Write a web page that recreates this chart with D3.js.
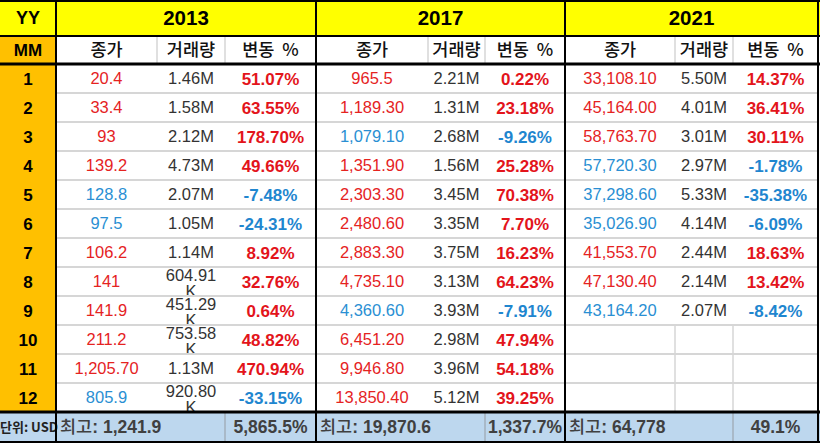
<!DOCTYPE html>
<html><head><meta charset="utf-8">
<script src="https://cdn.jsdelivr.net/npm/d3@7"></script>
<style>
html,body{margin:0;padding:0;background:#fff;}
svg{display:block;}
</style></head>
<body><svg id="chart" width="820" height="444"></svg>
<script>
// ---------- data ----------
const years = ["2013", "2017", "2021"];
const months = [1, 2, 3, 4, 5, 6, 7, 8, 9, 10, 11, 12];
const subHeaders = ["종가", "거래량", "변동 %"];

const close2013 = [20.4, 33.4, 93, 139.2, 128.8, 97.5, 106.2, 141, 141.9, 211.2, 1205.7, 805.9];
const volume2013 = [1460000, 1580000, 2120000, 4730000, 2070000, 1050000, 1140000, 604910, 451290, 753580, 1130000, 920800];
const change2013 = [51.07, 63.55, 178.70, 49.66, -7.48, -24.31, 8.92, 32.76, 0.64, 48.82, 470.94, -33.15];

const close2017 = [965.5, 1189.3, 1079.1, 1351.9, 2303.3, 2480.6, 2883.3, 4735.1, 4360.6, 6451.2, 9946.8, 13850.4];
const volume2017 = [2210000, 1310000, 2680000, 1560000, 3450000, 3350000, 3750000, 3130000, 3930000, 2980000, 3960000, 5120000];
const change2017 = [0.22, 23.18, -9.26, 25.28, 70.38, 7.70, 16.23, 64.23, -7.91, 47.94, 54.18, 39.25];

const close2021 = [33108.1, 45164.0, 58763.7, 57720.3, 37298.6, 35026.9, 41553.7, 47130.4, 43164.2];
const volume2021 = [5500000, 4010000, 3010000, 2970000, 5330000, 4140000, 2440000, 2140000, 2070000];
const change2021 = [14.37, 36.41, 30.11, -1.78, -35.38, -6.09, 18.63, 13.42, -8.42];

const footerMax = [1241.9, 19870.6, 64778];
const footerChange = ["5,865.5%", "1,337.7%", "49.1%"];
const unitLabel = "단위: USD";
const maxLabel = "최고";

// ---------- layout ----------
const W = 820, H = 444;
const groupEdges = [[56, 157, 225, 316], [316, 428, 485, 565], [565, 675, 733, 818]];
const closes = [close2013, close2017, close2021];
const volumes = [volume2013, volume2017, volume2021];
const changes = [change2013, change2017, change2021];

const y = d3.scaleBand().domain(months).range([64, 412]).paddingInner(0).paddingOuter(0);
const xYear = d3.scaleOrdinal().domain(years).range(groupEdges);

const RED = "#E5231F", BLUE = "#2A8FD3", PRED = "#E3141B", PBLUE = "#1F86CF";
const KFONT = "'Noto Sans CJK KR', 'Noto Sans', sans-serif";
const NFONT = "'Liberation Sans', Arial, sans-serif";
const NUM_SIZE = 16.5, PCT_SIZE = 17;

const svg = d3.select("#chart");
svg.append("rect").attr("width", W).attr("height", H).attr("fill", "#fff");

const fmtClose = v => v >= 1000 ? d3.format(",.2f")(v) : String(v);
const fmtVol = v => v >= 1e6 ? (v / 1e6).toFixed(2) + "M" : (v / 1e3).toFixed(2) + " K";
const fmtChg = v => v.toFixed(2) + "%";

// backgrounds
svg.append("rect").attr("x", 0).attr("y", 0).attr("width", W).attr("height", 36).attr("fill", "#FFFF00");
svg.append("rect").attr("x", 0).attr("y", 36).attr("width", 56).attr("height", 376).attr("fill", "#FFC000");
svg.append("rect").attr("x", 0).attr("y", 412).attr("width", W).attr("height", 30).attr("fill", "#BDD7EE");

const defs = svg.append("defs");

// gray grid
const grid = svg.append("g").attr("stroke", "#D6D6D6").attr("stroke-width", 2);
months.forEach((m, i) => {
  if (i > 0) grid.append("line").attr("x1", 57).attr("x2", 818).attr("y1", y(m)).attr("y2", y(m));
});
groupEdges.forEach((ge, gi) => {
  [ge[1], ge[2]].forEach(x => grid.append("line").attr("x1", x).attr("x2", x).attr("y1", 37).attr("y2", 63).attr("stroke-width", 1.5));
  grid.append("line").attr("x1", ge[2]).attr("x2", ge[2]).attr("y1", 413).attr("y2", 442).attr("stroke-width", 2).attr("stroke", "#A9B9C8");
  const n = closes[gi].length;
  months.forEach((m, i) => {
    if (i >= n) {
      [ge[1], ge[2]].forEach(x => grid.append("line").attr("x1", x).attr("x2", x).attr("y1", y(m)).attr("y2", y(m) + y.bandwidth()).attr("stroke-width", 1.5));
    }
  });
});

// header row 1
svg.append("text").attr("x", 28).attr("y", 18).attr("dy", "0.36em").attr("text-anchor", "middle")
  .attr("font-family", NFONT).attr("font-weight", "bold").attr("font-size", 18).text("YY");
years.forEach(yr => {
  const ge = xYear(yr);
  svg.append("text").attr("x", (ge[0] + ge[3]) / 2).attr("y", 18).attr("dy", "0.36em").attr("text-anchor", "middle")
    .attr("font-family", NFONT).attr("font-weight", "bold").attr("font-size", 20.5).text(yr);
});

// header row 2
svg.append("text").attr("x", 28).attr("y", 50).attr("dy", "0.36em").attr("text-anchor", "middle")
  .attr("font-family", NFONT).attr("font-weight", "bold").attr("font-size", 17).text("MM");
years.forEach(yr => {
  const ge = xYear(yr);
  subHeaders.forEach((h, j) => {
    svg.append("text").attr("x", (ge[j] + ge[j + 1]) / 2).attr("y", 50).attr("dy", "0.36em").attr("text-anchor", "middle")
      .attr("font-family", KFONT).attr("font-weight", 500).attr("font-size", 17.5).attr("fill", "#111")
      .attr("word-spacing", 4).text(h);
  });
});

// month labels
svg.append("g").selectAll("text").data(months).join("text")
  .attr("x", 28).attr("y", d => y(d) + y.bandwidth() / 2).attr("dy", "0.36em").attr("text-anchor", "middle")
  .attr("font-family", NFONT).attr("font-weight", "bold").attr("font-size", 17).text(d => d);

// data cells
years.forEach((yr, gi) => {
  const ge = xYear(yr);
  const g = svg.append("g");
  closes[gi].forEach((c, i) => {
    const m = months[i];
    const cy = y(m) + y.bandwidth() / 2;
    const pos = changes[gi][i] >= 0;
    g.append("text").attr("x", (ge[0] + ge[1]) / 2).attr("y", cy).attr("dy", "0.36em").attr("text-anchor", "middle")
      .attr("font-family", NFONT).attr("font-size", NUM_SIZE).attr("fill", pos ? RED : BLUE).text(fmtClose(c));
    const vtxt = fmtVol(volumes[gi][i]);
    const vx = (ge[1] + ge[2]) / 2;
    if (vtxt.includes(" ")) {
      const id = `clip-${gi}-${i}`;
      defs.append("clipPath").attr("id", id).append("rect")
        .attr("x", ge[1]).attr("y", y(m) + 1).attr("width", ge[2] - ge[1]).attr("height", y.bandwidth() - 2);
      const parts = vtxt.split(" ");
      const t = g.append("text").attr("clip-path", `url(#${id})`).attr("text-anchor", "middle")
        .attr("font-family", NFONT).attr("font-size", NUM_SIZE).attr("fill", "#333");
      t.append("tspan").attr("x", vx).attr("y", cy - 6.5).attr("dy", "0.36em").text(parts[0]);
      t.append("tspan").attr("x", vx).attr("y", cy + 10).attr("dy", "0.36em").text(parts[1]);
    } else {
      g.append("text").attr("x", vx).attr("y", cy).attr("dy", "0.36em").attr("text-anchor", "middle")
        .attr("font-family", NFONT).attr("font-size", NUM_SIZE).attr("fill", "#333").text(vtxt);
    }
    g.append("text").attr("x", (ge[2] + ge[3]) / 2).attr("y", cy).attr("dy", "0.36em").attr("text-anchor", "middle")
      .attr("font-family", NFONT).attr("font-weight", "bold").attr("font-size", PCT_SIZE).attr("fill", pos ? PRED : PBLUE)
      .text(fmtChg(changes[gi][i]));
  });
});

// footer
svg.append("text").attr("x", 0).attr("y", 427).attr("dy", "0.36em")
  .attr("font-family", KFONT).attr("font-weight", "bold").attr("font-size", 13).attr("fill", "#222").text(unitLabel);
years.forEach((yr, gi) => {
  const ge = xYear(yr);
  const t = svg.append("text").attr("x", ge[0] + 4).attr("y", 427).attr("dy", "0.36em").attr("fill", "#404040");
  t.append("tspan").attr("font-family", KFONT).attr("font-weight", 500).attr("font-size", 17.5).text(maxLabel);
  t.append("tspan").attr("font-family", NFONT).attr("font-weight", "bold").attr("font-size", 17.5)
    .text(": " + d3.format(",")(footerMax[gi]));
  svg.append("text").attr("x", (ge[2] + ge[3]) / 2).attr("y", 427).attr("dy", "0.36em").attr("text-anchor", "middle")
    .attr("font-family", NFONT).attr("font-weight", "bold").attr("font-size", 17.5).attr("fill", "#404040").text(footerChange[gi]);
});

// black borders
const bl = svg.append("g").attr("stroke", "#000");
bl.append("line").attr("x1", 0).attr("x2", W).attr("y1", 1).attr("y2", 1).attr("stroke-width", 2);
bl.append("line").attr("x1", 0).attr("x2", W).attr("y1", 36).attr("y2", 36).attr("stroke-width", 2);
bl.append("line").attr("x1", 0).attr("x2", W).attr("y1", 64).attr("y2", 64).attr("stroke-width", 3);
bl.append("line").attr("x1", 0).attr("x2", W).attr("y1", 412).attr("y2", 412).attr("stroke-width", 3);
bl.append("line").attr("x1", 0).attr("x2", W).attr("y1", 442).attr("y2", 442).attr("stroke-width", 2);
[56, 316, 565, 818].forEach(x => bl.append("line").attr("x1", x).attr("x2", x).attr("y1", 0).attr("y2", 443).attr("stroke-width", 2));
</script>
</body></html>
